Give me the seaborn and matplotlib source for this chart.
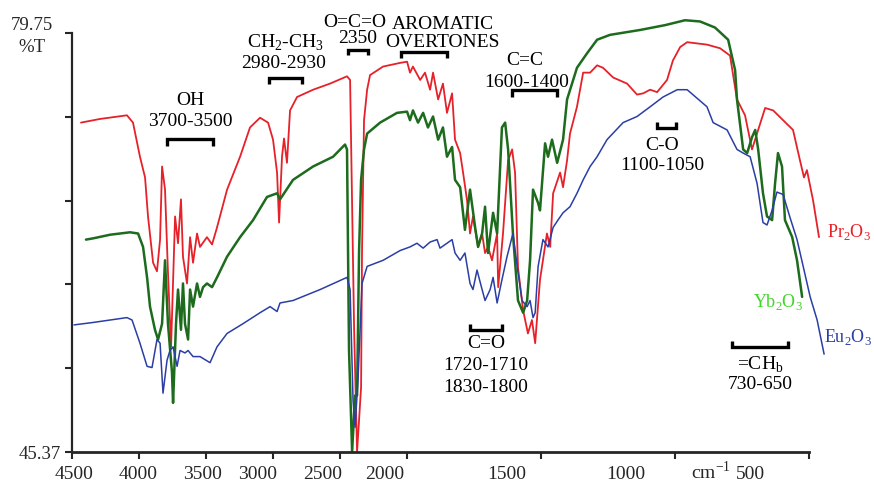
import numpy as np
import matplotlib
matplotlib.use("Agg")
import matplotlib.pyplot as plt
import seaborn as sns

# IR spectra: wavenumber (cm-1) and transmittance (%T)
red_wn = [4433, 4291, 4090, 4045, 3993, 3955, 3933, 3895, 3866, 3843,
          3828, 3806, 3784, 3761, 3731, 3709, 3687, 3672, 3642, 3619,
          3597, 3567, 3545, 3493, 3455, 3418, 3343, 3246, 3172, 3097,
          3037, 3000, 2970, 2955, 2933, 2918, 2896, 2873, 2821, 2701,
          2575, 2448, 2425, 2395, 2373, 2358, 2343, 2336, 2321, 2298,
          2276, 2179, 2052, 2000, 1989, 1978, 1951, 1933, 1914, 1903,
          1884, 1866, 1851, 1832, 1821, 1802, 1791, 1776, 1765, 1754,
          1735, 1720, 1709, 1698, 1683, 1664, 1660, 1642, 1623, 1608,
          1597, 1586, 1567, 1549, 1534, 1522, 1504, 1478, 1466, 1455,
          1429, 1418, 1403, 1392, 1366, 1343, 1317, 1291, 1269, 1231,
          1179, 1142, 1119, 1093, 1067, 1030, 1008, 981, 955, 918,
          881, 832, 795, 769, 739, 713, 690, 664, 634, 597,
          560, 534, 519, 508, 485, 463]
red_t = [72.4, 72.7, 73.0, 72.4, 69.6, 67.9, 64.7, 60.9, 60.2, 62.8,
         68.8, 66.9, 60.1, 54.0, 64.7, 62.5, 66.1, 61.4, 59.2, 63.0,
         60.9, 63.3, 62.2, 63.0, 62.4, 63.8, 66.9, 69.6, 72.0, 72.8,
         72.4, 71.0, 68.3, 64.2, 69.6, 71.1, 69.1, 73.4, 74.5, 75.1,
         75.6, 76.2, 75.9, 55.4, 45.4, 48.0, 50.7, 61.9, 72.6, 75.1,
         76.3, 77.0, 77.3, 77.4, 76.5, 77.0, 75.9, 76.5, 75.1, 76.5,
         74.3, 75.6, 73.2, 74.8, 71.0, 69.9, 68.3, 66.0, 63.3, 64.7,
         62.2, 63.3, 61.7, 62.2, 61.1, 63.3, 58.9, 63.3, 69.3, 70.2,
         68.3, 60.5, 57.0, 55.1, 56.2, 54.3, 59.5, 63.3, 62.2, 66.6,
         68.3, 67.1, 69.3, 71.5, 73.7, 76.5, 76.5, 77.1, 76.9, 76.1,
         75.6, 74.7, 74.8, 75.1, 74.9, 75.9, 77.5, 78.6, 79.0, 78.9,
         78.8, 78.5, 77.9, 74.3, 73.0, 70.2, 71.8, 73.6, 73.4, 72.6,
         71.8, 69.3, 67.9, 68.5, 66.0, 63.0]

green_wn = [4396, 4343, 4216, 4067, 4007, 3970, 3940, 3918, 3881, 3858,
            3828, 3806, 3784, 3754, 3746, 3724, 3709, 3687, 3672, 3657,
            3634, 3619, 3597, 3567, 3545, 3522, 3493, 3455, 3418, 3343,
            3246, 3149, 3045, 2970, 2948, 2851, 2701, 2552, 2463, 2448,
            2433, 2410, 2388, 2373, 2358, 2343, 2321, 2298, 2201, 2075,
            2000, 1989, 1978, 1959, 1940, 1922, 1903, 1884, 1866, 1851,
            1832, 1821, 1802, 1784, 1765, 1746, 1735, 1720, 1709, 1698,
            1679, 1664, 1646, 1634, 1623, 1605, 1586, 1567, 1552, 1541,
            1530, 1511, 1504, 1485, 1474, 1459, 1440, 1418, 1403, 1366,
            1328, 1291, 1243, 1131, 1037, 963, 907, 851, 802, 776,
            769, 746, 731, 713, 701, 690, 672, 657, 638, 627,
            616, 601, 590, 563, 545, 526]
green_t = [62.8, 62.9, 63.2, 63.4, 63.3, 62.2, 59.7, 57.3, 55.4, 54.6,
           55.9, 61.1, 55.9, 51.9, 49.4, 55.9, 58.7, 55.4, 59.2, 55.9,
           54.6, 58.7, 57.3, 59.2, 58.1, 58.9, 59.2, 58.9, 59.7, 61.4,
           63.0, 64.4, 66.3, 66.6, 66.1, 67.7, 68.8, 69.6, 70.6, 70.2,
           53.7, 45.4, 50.0, 50.0, 61.9, 67.7, 70.2, 71.5, 72.4, 73.2,
           73.3, 72.6, 73.4, 72.4, 73.2, 72.0, 72.9, 71.0, 72.0, 69.6,
           70.4, 67.7, 67.1, 63.6, 66.9, 63.8, 62.2, 63.3, 65.5, 61.7,
           65.0, 63.3, 72.0, 72.4, 70.2, 63.3, 57.8, 56.8, 57.8, 61.1,
           66.9, 65.8, 65.2, 70.7, 69.6, 71.0, 69.1, 71.0, 74.3, 76.9,
           78.1, 79.2, 79.6, 80.0, 80.4, 80.8, 80.7, 80.2, 79.2, 76.7,
           74.3, 70.2, 69.9, 71.2, 71.8, 70.2, 66.6, 64.7, 64.4, 67.4,
           69.9, 68.8, 64.4, 63.0, 61.1, 58.1]

blue_wn = [4485, 4343, 4090, 4052, 3993, 3940, 3903, 3866, 3843, 3821,
           3791, 3769, 3746, 3716, 3694, 3657, 3634, 3597, 3545, 3470,
           3418, 3343, 3224, 3097, 3022, 2970, 2948, 2851, 2649, 2448,
           2425, 2403, 2388, 2366, 2336, 2298, 2179, 2052, 1989, 1963,
           1940, 1914, 1888, 1877, 1851, 1832, 1821, 1802, 1784, 1765,
           1754, 1739, 1720, 1709, 1690, 1679, 1664, 1646, 1627, 1605,
           1586, 1571, 1552, 1541, 1530, 1522, 1511, 1493, 1474, 1455,
           1437, 1418, 1392, 1366, 1343, 1317, 1291, 1254, 1194, 1142,
           1093, 1045, 992, 955, 918, 881, 858, 806, 769, 746,
           720, 694, 672, 657, 638, 620, 597, 571, 545, 522,
           496, 470, 444]
blue_t = [55.8, 56.0, 56.4, 56.2, 54.3, 52.4, 52.3, 54.6, 54.3, 50.2,
          52.9, 53.7, 54.0, 52.4, 53.7, 53.5, 53.7, 53.2, 53.2, 52.7,
          54.0, 55.1, 55.9, 56.8, 57.3, 56.9, 57.6, 57.8, 58.7, 59.7,
          58.7, 49.6, 47.4, 51.3, 59.2, 60.6, 61.1, 61.9, 62.2, 62.5,
          62.1, 62.6, 62.8, 62.1, 62.5, 62.8, 61.7, 61.1, 61.7, 59.2,
          58.7, 60.3, 58.7, 57.8, 58.7, 59.7, 57.6, 59.5, 61.4, 63.3,
          60.1, 57.8, 57.3, 57.8, 56.4, 56.8, 60.6, 62.8, 62.2, 63.8,
          64.4, 65.0, 65.5, 66.6, 67.7, 68.8, 69.6, 71.0, 72.4, 72.9,
          73.7, 74.5, 75.1, 75.1, 74.4, 73.7, 72.4, 71.8, 70.2, 69.9,
          69.6, 67.4, 64.2, 64.0, 65.2, 66.7, 66.5, 64.6, 62.8, 60.6,
          58.1, 56.2, 53.4]

x_ticks = [4500, 4000, 3500, 3000, 2500, 2000, 1500, 1000, 500]
x_tick_labels = ["4500", "4000", "3500", "3000", "2500", "2000", "1500", "1000", "500"]
# the scanned labels sit a little left of their ticks
x_label_pos = [4485, 4007, 3530, 3119, 2627, 2164, 1627, 1183, 717]
y_min, y_max = 45.37, 79.75


# spectrometer scale: halves its cm-1 per mm below 2000
def fwd(w):
    w = np.asarray(w, dtype=float)
    return np.where(w >= 2000, 4 + (w - 2000) / 500, w / 250 - 4)


def inv(u):
    u = np.asarray(u, dtype=float)
    return np.where(u >= 4, 2000 + (u - 4) * 500, (u + 4) * 250)


sns.set_style("ticks")
plt.rcParams['font.family'] = ['Liberation Serif', 'DejaVu Serif']
plt.rcParams['mathtext.fontset'] = 'custom'
plt.rcParams['mathtext.rm'] = 'Liberation Serif'

fig = plt.figure(figsize=(8.74, 4.84), dpi=100)
ax = fig.add_axes([0.0824, 0.0661, 0.8648, 0.9097])
ax.set_xscale('function', functions=(fwd, inv))

sns.lineplot(x=red_wn, y=red_t, color='#e62129', lw=1.3, sort=False, estimator=None, ax=ax)
sns.lineplot(x=green_wn, y=green_t, color='#1d6b1d', lw=1.8, sort=False, estimator=None, ax=ax)
sns.lineplot(x=blue_wn, y=blue_t, color='#2b3ea5', lw=1.1, sort=False, estimator=None, ax=ax)

ax.set_xlim(4500, 430)
ax.set_ylim(y_min, 81.5)
sns.despine(ax=ax)
ax.spines['bottom'].set_bounds(500, 4500)
ax.spines['left'].set_bounds(y_min, y_max)
ax.spines['bottom'].set_linewidth(2)
ax.spines['left'].set_linewidth(1.6)

ax.set_xticks(x_ticks, labels=[""] * len(x_ticks))
ax.set_xticks(x_label_pos, labels=x_tick_labels, minor=True)
ax.tick_params(axis='x', which='major', length=5, width=1.5, direction='out')
ax.tick_params(axis='x', which='minor', length=0, pad=10, labelsize=14)

y_ticks = np.linspace(y_min, y_max, 6)
ax.set_yticks(y_ticks, labels=["45.37"] + [""] * 5)
ax.tick_params(axis='y', length=5, width=1.5, direction='out', labelsize=13.5, pad=3)
ax.set_xlabel("")
ax.set_ylabel("")

yt = ax.get_yaxis_transform()
ax.text(-0.053, 80.4, "79.75", transform=yt, ha='center', va='center', fontsize=13.5)
ax.text(-0.053, 78.6, "%T", transform=yt, ha='center', va='center', fontsize=13.5)
ax.text(866, 43.75, "cm$^\\mathregular{-1}$", ha='center', va='center', fontsize=14)


def bracket(x0, x1, y, tip):
    ax.plot([x0, x0, x1, x1], [tip, y, y, tip], color='black', lw=2.4,
            solid_joinstyle='miter', solid_capstyle='butt', clip_on=False)


def label(x, y, s, color='black', size=14):
    ax.text(x, y, s, ha='center', va='center', fontsize=size, color=color)


bracket(3791, 3448, 71.05, 70.45)
label(3619, 74.25, "OH")
label(3619, 72.45, "3700-3500")

bracket(3030, 2784, 76.06, 75.55)
label(2910, 78.93, "CH$_\\mathregular{2}$-CH$_\\mathregular{3}$")
label(2925, 77.29, "2980-2930")

bracket(2440, 2291, 78.36, 77.95)
label(2388, 80.65, "O=C=O")
label(2366, 79.34, "2350")

bracket(2045, 1851, 78.2, 77.7)
label(1866, 80.41, "AROMATIC")
label(1866, 79.01, "OVERTONES")

bracket(1608, 1440, 75.08, 74.5)
label(1560, 77.53, "C=C")
label(1552, 75.7, "1600-1400")

bracket(1067, 996, 71.96, 72.45)
label(1049, 70.56, "C-O")
label(1049, 68.9, "1100-1050")

bracket(1765, 1646, 55.38, 55.87)
label(1705, 54.3, "C=O")
label(1705, 52.5, "1720-1710")
label(1705, 50.7, "1830-1800")

bracket(787, 578, 53.98, 54.47)
label(683, 52.5, "=CH$_\\mathregular{b}$")
label(683, 50.9, "730-650")

label(351, 63.4, "Pr$_\\mathregular{2}$O$_\\mathregular{3}$", color='#e62129', size=13)
label(616, 57.7, "Yb$_\\mathregular{2}$O$_\\mathregular{3}$", color='#3fd629', size=13)
label(355, 54.8, "Eu$_\\mathregular{2}$O$_\\mathregular{3}$", color='#2b3ea5', size=13)

fig.savefig("out.png", dpi=100)
